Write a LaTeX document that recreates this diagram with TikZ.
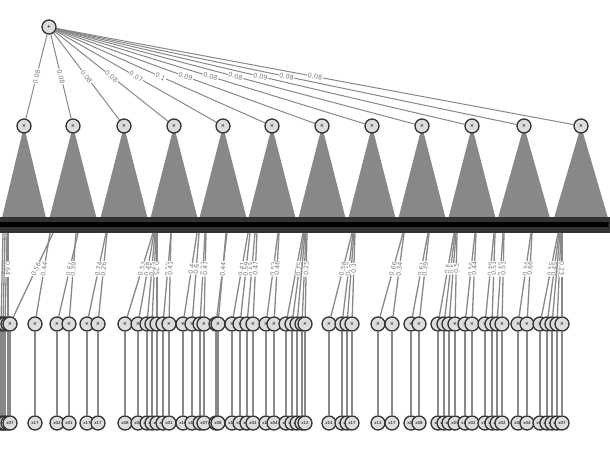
\documentclass[tikz,border=0pt]{standalone}
\usepackage{fontspec}
\setmainfont{DejaVu Sans}
\pgfdeclarelayer{bg}
\pgfsetlayers{bg,main}
\definecolor{nodefill}{HTML}{DDDDDD}
\definecolor{nodedraw}{HTML}{333333}
\definecolor{edgecol}{HTML}{888888}
\definecolor{labcol}{HTML}{7A7A7A}
\definecolor{bandcol}{HTML}{333333}
\begin{document}
\begin{tikzpicture}[x=1pt,y=-1pt,
  snode/.style={circle,draw=nodedraw,fill=nodefill,line width=1.3pt,minimum size=14pt,inner sep=0pt,font=\fontsize{5}{5}\selectfont},
  leafnode/.style={snode,font=\fontsize{4}{4}\selectfont},
  topedge/.style={draw=edgecol,line width=1pt},
  lowedge/.style={draw=edgecol,line width=1.3pt},
  wlab/.style={fill=white,inner sep=0.8pt,text=labcol,font=\fontsize{6.5}{6.5}\selectfont,sloped},
  lowlab/.style={fill=white,inner sep=0.7pt,text=labcol,font=\fontsize{6.3}{6.3}\selectfont,sloped,pos=0.43},
  tri/.style={fill=edgecol}]
\useasboundingbox (0,0) rectangle (610,450);

% root and product nodes
\node[snode] (r) at (49,27) {+};
\foreach \i/\x/\hw/\w in {1/24/22/0.08,2/73/23.5/0.08,3/124/23.5/0.08,4/174/23.5/0.08,5/223/23.5/0.07,6/272/23.5/0.1,7/322/23.5/0.09,8/372/23.5/0.08,9/422/23.5/0.08,10/472/23.5/0.09,11/524/26/0.08,12/581/27/0.08}{
  \node[snode] (p\i) at (\x,126) {×};
  \begin{pgfonlayer}{bg}
    \fill[tri] (p\i.center) -- (\x-\hw,218) -- (\x+\hw,218) -- cycle;
    \draw[topedge] (r) -- node[wlab] {\w} (p\i);
  \end{pgfonlayer}
}

% band of densely packed nodes
\node[snode] (rb) at (616,225) {};
\begin{pgfonlayer}{bg}
  \fill[bandcol] (-5,217) rectangle (615,233);
  \fill[black] (-5,222) rectangle (615,226.5);
\end{pgfonlayer}

% lower sum-child product nodes, their leaves, and edges
\foreach \i/\tx/\nx/\lab/\lf in {
 1/3/1//x07, 2/5/3//x02, 3/7/5//x12, 4/8/8/0.64/x07,
 5/53/10/0.56/x07, 6/50/35/0.44/x17,
 7/78/57/0.61/x02, 8/76/69/0.39/x01,
 9/106/87/0.74/x17, 10/107/98/0.26/x17,
 11/153/125/0.52/x08, 12/154/138/0.48/x03, 13/155/147/0.75/x09, 14/156/152//x11, 15/157/157/0.25/x05,
 16/171/163/0.59/x04, 17/171/169/0.41/x01,
 18/197/183/0.4/x16, 19/199/192/0.6/x13,
 20/205/200/0.53/x18, 21/206/204/0.47/x07,
 22/227/216/0.56/x06, 23/226/218/0.44/x08,
 24/248/232/0.41/x15, 25/250/240/0.59/x03,
 26/255/247/0.53/x19, 27/257/253/0.47/x02,
 28/278/266/0.52/x10, 29/279/274/0.48/x04,
 30/303/286//x11, 31/304/292/0.75/x06, 32/305/297//x14, 33/306/302//x09, 34/307/305/0.25/x12,
 35/352/329/0.58/x14, 36/353/342/0.42/x17, 37/354/347/0.9/x06, 38/355/352/0.1/x17,
 39/403/378/0.66/x13, 40/404/392/0.34/x17,
 41/428/411/0.61/x08, 42/429/419/0.39/x08,
 43/454/438/0.5/x10, 44/455/444/0.5/x02, 45/456/449/0.5/x05, 46/457/455/0.5/x03,
 47/475/465/0.56/x12, 48/476/472/0.44/x02,
 49/494/485/0.49/x16, 50/495/492/0.51/x04, 51/503/497/0.49/x11, 52/504/502/0.51/x02,
 53/531/518/0.34/x05, 54/532/527/0.66/x04,
 55/558/540/0.55/x07, 56/559/547/0.45/x18, 57/560/552//x13, 58/561/557//x00, 59/562/562/0.23/x07}{
  \node[snode] (q\i) at (\nx,324) {×};
  \node[leafnode] (l\i) at (\nx,423) {\lf};
  \coordinate (t\i) at (\tx,233);
  \begin{pgfonlayer}{bg}
    \draw[lowedge] (q\i) -- (l\i);
    \if\relax\detokenize\expandafter{\lab}\relax
      \draw[lowedge] (t\i) -- (q\i);
    \else
      \draw[lowedge] (t\i) -- node[lowlab] {\lab} (q\i);
    \fi
  \end{pgfonlayer}
}
\end{tikzpicture}
\end{document}
